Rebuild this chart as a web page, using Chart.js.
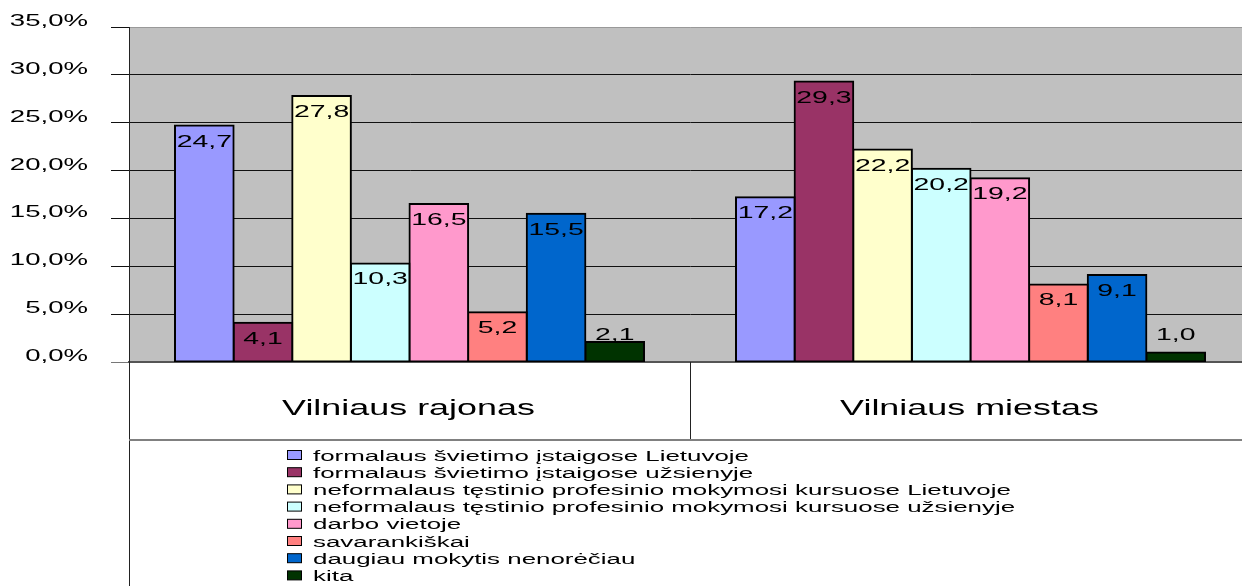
<!DOCTYPE html>
<html>
<head>
<meta charset="utf-8">
<script src="https://cdn.jsdelivr.net/npm/chart.js@4.4.1/dist/chart.umd.min.js"></script>
<style>
  html, body { margin: 0; padding: 0; background: #fff; overflow: hidden; }
  #wrap { width: 1251px; height: 586px; }
</style>
</head>
<body>
<div id="wrap"><canvas id="BarChart" width="1251" height="586"></canvas></div>
<script>
const categories = ['Vilniaus rajonas', 'Vilniaus miestas'];
const seriesNames = [
    'formalaus švietimo įstaigose Lietuvoje',
    'formalaus švietimo įstaigose užsienyje',
    'neformalaus tęstinio profesinio mokymosi kursuose Lietuvoje',
    'neformalaus tęstinio profesinio mokymosi kursuose užsienyje',
    'darbo vietoje',
    'savarankiškai',
    'daugiau mokytis nenorėčiau',
    'kita'
];
const rajonas = [24.7, 4.1, 27.8, 10.3, 16.5, 5.2, 15.5, 2.1];
const miestas = [17.2, 29.3, 22.2, 20.2, 19.2, 8.1, 9.1, 1.0];
const colors = ['#9999ff', '#993366', '#ffffcc', '#ccffff', '#ff99cc', '#ff8080', '#0066cc', '#003300'];
const yTicks = [0, 5, 10, 15, 20, 25, 30, 35];

// the picture is stretched sideways, so text is drawn wider than tall
const SX = 1.67;
const FONT = '"Liberation Sans", Arial, sans-serif';

const fmt = (v) => v.toFixed(1).replace('.', ',');

function wideText(ctx, str, x, y, align, size) {
    ctx.save();
    ctx.font = size + 'px ' + FONT;
    ctx.fillStyle = '#000';
    ctx.textBaseline = 'alphabetic';
    ctx.translate(x, y);
    ctx.scale(SX, 1);
    ctx.textAlign = align;
    ctx.fillText(str, 0, 0);
    ctx.restore();
}

const decor = {
    id: 'decor',
    beforeDraw(chart) {
        const ctx = chart.ctx;
        const a = chart.chartArea;
        ctx.save();
        ctx.fillStyle = '#fff';
        ctx.fillRect(0, 0, chart.width, chart.height);
        ctx.fillStyle = '#c0c0c0';
        ctx.fillRect(a.left, a.top, a.right - a.left, a.bottom - a.top);
        ctx.restore();
    },
    afterDatasetsDraw(chart) {
        const ctx = chart.ctx;
        chart.data.datasets.forEach((ds, i) => {
            chart.getDatasetMeta(i).data.forEach((bar, j) => {
                const h = bar.base - bar.y;
                const y = h >= 30 ? bar.y + 21 : bar.base - 22;
                wideText(ctx, fmt(ds.data[j]), bar.x, y, 'center', 17);
            });
        });
    },
    afterDraw(chart) {
        const ctx = chart.ctx;
        const a = chart.chartArea;
        const ys = chart.scales.y;
        const xs = chart.scales.x;

        // y tick labels
        yTicks.forEach((v) => {
            wideText(ctx, fmt(v) + '%', 88, ys.getPixelForValue(v) - 1, 'right', 16.5);
        });

        // category box under the plot
        const boxBottom = 440;
        ctx.save();
        ctx.strokeStyle = '#222';
        ctx.lineWidth = 1;
        ctx.beginPath();
        ctx.moveTo(a.left + 0.5, a.bottom);
        ctx.lineTo(a.left + 0.5, chart.height);
        const mid = (xs.getPixelForValue(0) + xs.getPixelForValue(1)) / 2;
        ctx.moveTo(Math.round(mid) + 0.5, a.bottom);
        ctx.lineTo(Math.round(mid) + 0.5, boxBottom);
        ctx.stroke();
        ctx.strokeStyle = '#808080';
        ctx.lineWidth = 2;
        ctx.beginPath();
        ctx.moveTo(a.left, boxBottom);
        ctx.lineTo(chart.width, boxBottom);
        ctx.stroke();
        ctx.restore();

        categories.forEach((c, i) => {
            wideText(ctx, c, xs.getPixelForValue(i) - 1, 415, 'center', 21.5);
        });

        // legend
        seriesNames.forEach((name, i) => {
            const cy = 455 + i * 17.2;
            ctx.save();
            ctx.fillStyle = colors[i];
            ctx.strokeStyle = '#000';
            ctx.lineWidth = 1;
            ctx.fillRect(287.5, cy - 4.5, 14, 9);
            ctx.strokeRect(287.5, cy - 4.5, 14, 9);
            ctx.restore();
            wideText(ctx, name, 313, cy + 5.5, 'left', 15.5);
        });
    }
};

new Chart(document.getElementById('BarChart'), {
    type: 'bar',
    data: {
        labels: categories,
        datasets: seriesNames.map((name, i) => ({
            label: name,
            data: [rajonas[i], miestas[i]],
            backgroundColor: colors[i],
            borderColor: '#000',
            borderWidth: 2,
            borderSkipped: false,
            inflateAmount: 1,
            barPercentage: 1,
            categoryPercentage: 0.836
        }))
    },
    options: {
        responsive: false,
        animation: false,
        devicePixelRatio: 1,
        layout: { padding: { top: 27, left: 0, right: 0, bottom: 0 } },
        plugins: {
            legend: { display: false },
            tooltip: { enabled: false }
        },
        scales: {
            x: {
                ticks: { display: false },
                grid: { display: false },
                border: { display: true, color: '#555', width: 2 },
                afterFit: (scale) => { scale.height = 224; }
            },
            y: {
                min: 0,
                max: 35,
                ticks: { display: false, stepSize: 5 },
                grid: {
                    color: (c) => {
                        if (!c.tick) return '#111';
                        if (c.tick.value === 0) return '#777';
                        if (c.tick.value === 35) return '#999';
                        return '#111';
                    },
                    tickColor: (c) => c.tick && c.tick.value === 0 ? '#777' : '#111',
                    lineWidth: 1,
                    tickLength: 18
                },
                border: { display: true, color: '#222', width: 1 },
                afterFit: (scale) => { scale.width = 129; }
            }
        }
    },
    plugins: [decor]
});
</script>
</body>
</html>
